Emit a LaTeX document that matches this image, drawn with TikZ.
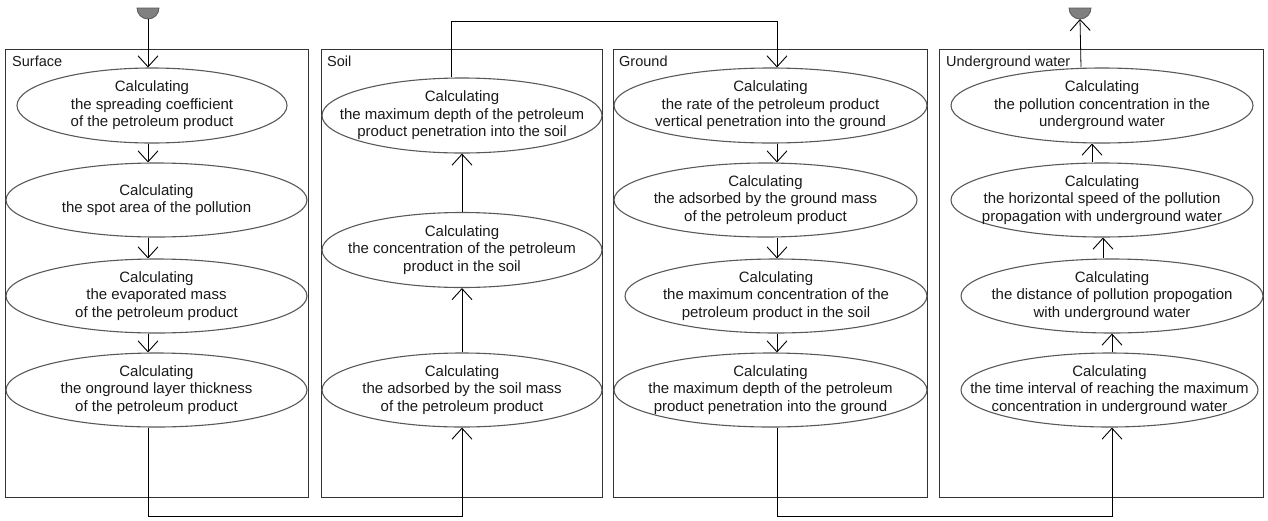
\documentclass[tikz,border=0pt]{standalone}
\usepackage{fontspec}
\setmainfont{Liberation Sans}
\usetikzlibrary{arrows.meta,shapes.geometric}
\begin{document}
\begin{tikzpicture}[x=1pt,y=-1pt,
  lane/.style={draw=black!80,line width=0.9pt},
  act/.style={ellipse,draw=black!65,line width=1.1pt,inner sep=0pt},
  txt/.style={align=center,inner sep=0pt,font=\fontsize{15}{17.5}\selectfont,text=black!90},
  lanelabel/.style={anchor=base west,inner sep=0pt,font=\fontsize{14.5}{17}\selectfont,text=black!90},
  flow/.style={draw=black,line width=0.8pt},
  arr/.style={flow,-{Straight Barb[length=11pt,width=20pt,line width=0.9pt]}},
  disc/.style={fill=black!50,draw=black!65,line width=0.8pt}
]
\useasboundingbox (0,0) rectangle (1268,520);

% swimlanes
\draw[lane] (5.5,49) rectangle (308,497);
\draw[lane] (321,49) rectangle (602,497);
\draw[lane] (613,49) rectangle (927,497);
\draw[lane] (939,49) rectangle (1263,497);
\node[lanelabel] (lS) at (12,66) {Surface};
\node[lanelabel] (lSo) at (327,66) {Soil};
\node[lanelabel] (lG) at (619,66) {Ground};
\node[lanelabel] (lW) at (946,66) {Underground water};

% start / end
\filldraw[disc] (159,8) arc[start angle=0,end angle=180,radius=11] -- cycle;
\coordinate (start) at (148,19);
\filldraw[disc] (1091,8) arc[start angle=0,end angle=180,radius=11] -- cycle;
\coordinate (finish) at (1080,19);

% Surface
\node[act,minimum width=270pt,minimum height=75pt] (S1) at (152,105.5) {};
\node[txt] at (S1) {Calculating\\the spreading coefficient\\of the petroleum product};
\node[act,minimum width=301pt,minimum height=74pt] (S2) at (156.5,200) {};
\node[txt] at (S2) {Calculating\\the spot area of the pollution};
\node[act,minimum width=301pt,minimum height=74pt] (S3) at (156.5,296) {};
\node[txt] at (S3) {Calculating\\the evaporated mass\\of the petroleum product};
\node[act,minimum width=301pt,minimum height=74pt] (S4) at (156.5,390) {};
\node[txt] at (S4) {Calculating\\the onground layer thickness\\of the petroleum product};

% Soil
\node[act,minimum width=280pt,minimum height=75pt] (So1) at (462,115.5) {};
\node[txt] at (So1) {Calculating\\the maximum depth of the petroleum\\product penetration into the soil};
\node[act,minimum width=280pt,minimum height=75pt] (So2) at (462,250) {};
\node[txt] at (So2) {Calculating\\the concentration of the petroleum\\product in the soil};
\node[act,minimum width=280pt,minimum height=74pt] (So3) at (462,390) {};
\node[txt] at (So3) {Calculating\\the adsorbed by the soil mass\\of the petroleum product};

% Ground
\node[act,minimum width=313pt,minimum height=75pt] (G1) at (770.5,105.5) {};
\node[txt] at (G1) {Calculating\\the rate of the petroleum product\\vertical penetration into the ground};
\node[act,minimum width=303pt,minimum height=74pt] (G2) at (765.5,200) {};
\node[txt] at (G2) {Calculating\\the adsorbed by the ground mass\\of the petroleum product};
\node[act,minimum width=302pt,minimum height=74pt] (G3) at (776,296) {};
\node[txt] at (G3) {Calculating\\the maximum concentration of the\\petroleum product in the soil};
\node[act,minimum width=313pt,minimum height=74pt] (G4) at (770.5,390) {};
\node[txt] at (G4) {Calculating\\the maximum depth of the petroleum\\product penetration into the ground};

% Underground water
\node[act,minimum width=302pt,minimum height=75pt] (W1) at (1102,105.5) {};
\node[txt] at (W1) {Calculating\\the pollution concentration in the\\underground water};
\node[act,minimum width=302pt,minimum height=74pt] (W2) at (1102,200) {};
\node[txt] at (W2) {Calculating\\the horizontal speed of the pollution\\propagation with underground water};
\node[act,minimum width=302pt,minimum height=74pt] (W3) at (1112,296) {};
\node[txt] at (W3) {Calculating\\the distance of pollution propogation\\with underground water};
\node[act,minimum width=297pt,minimum height=74pt] (W4) at (1109.5,390) {};
\node[txt] at (W4) {Calculating\\the time interval of reaching the maximum\\concentration in underground water};

% x positions of the connectors
\coordinate (xs) at (148,0);
\coordinate (xso) at (462,0);
\coordinate (xsoup) at (451,0);
\coordinate (xg) at (777,0);
\coordinate (xw1) at (1081,0);
\coordinate (xw2) at (1092,0);
\coordinate (xw3) at (1103,0);
\coordinate (xw4) at (1112,0);
\coordinate (topturn) at (777,21);
\coordinate (bot1) at (462,516);
\coordinate (bot2) at (1112,516);

% Surface flow
\draw[arr] (start) -- (S1.north -| xs);
\draw[arr] (S1.south -| xs) -- (S2.north -| xs);
\draw[arr] (S2.south -| xs) -- (S3.north -| xs);
\draw[arr] (S3.south -| xs) -- (S4.north -| xs);
\draw[arr] (S4.south -| xs) |- (bot1) -- (So3.south -| xso);

% Soil flow
\draw[arr] (So3.north -| xso) -- (So2.south -| xso);
\draw[arr] (So2.north -| xso) -- (So1.south -| xso);
\draw[arr] (So1.north -| xsoup) |- (topturn) -- (G1.north -| xg);

% Ground flow
\draw[arr] (G1.south -| xg) -- (G2.north -| xg);
\draw[arr] (G2.south -| xg) -- (G3.north -| xg);
\draw[arr] (G3.south -| xg) -- (G4.north -| xg);
\draw[arr] (G4.south -| xg) |- (bot2) -- (W4.south -| xw4);

% Water flow
\draw[arr] (W4.north -| xw4) -- (W3.south -| xw4);
\draw[arr] (W3.north -| xw3) -- (W2.south -| xw3);
\draw[arr] (W2.north -| xw2) -- (W1.south -| xw2);
\draw[arr] (W1.north -| xw1) -- (finish);
\end{tikzpicture}
\end{document}
